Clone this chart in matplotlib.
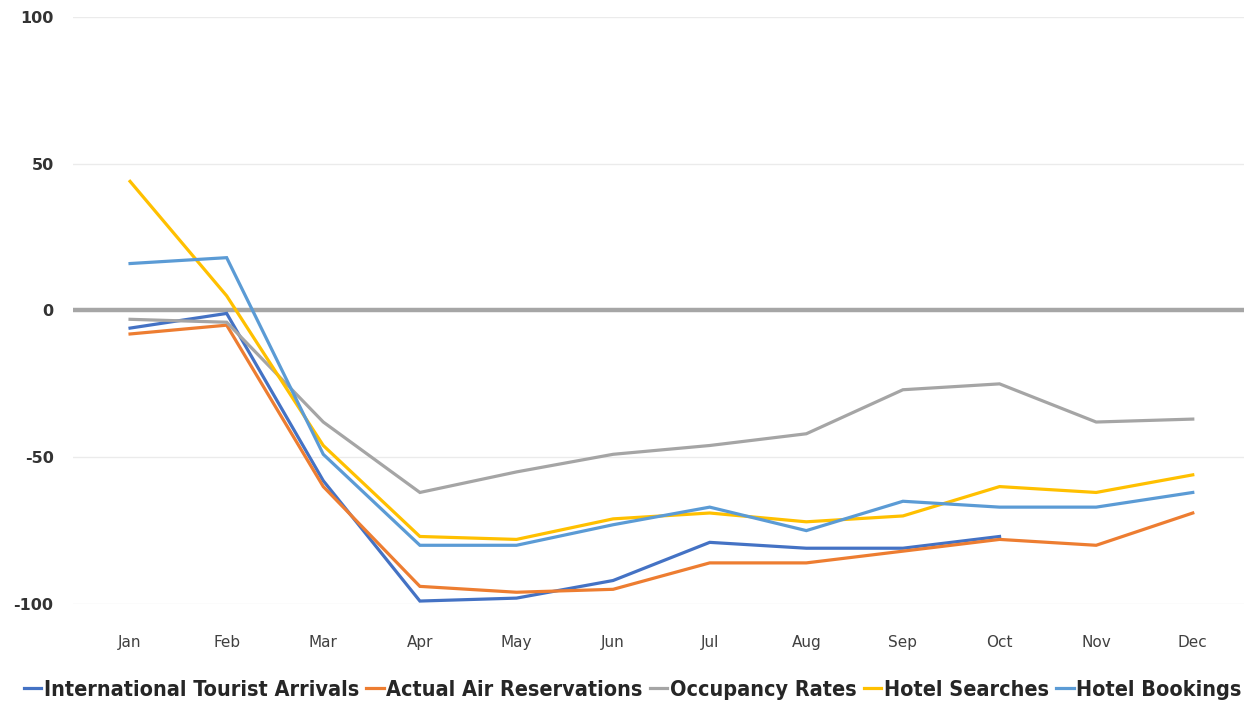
import matplotlib
matplotlib.use("Agg")
import matplotlib.pyplot as plt

# Data (% change)
months = ["Jan", "Feb", "Mar", "Apr", "May", "Jun", "Jul", "Aug", "Sep", "Oct", "Nov", "Dec"]
arrivals = [-6, -1, -58, -99, -98, -92, -79, -81, -81, -77]  # ends at Oct
air_reservations = [-8, -5, -60, -94, -96, -95, -86, -86, -82, -78, -80, -69]
occupancy = [-3, -4, -38, -62, -55, -49, -46, -42, -27, -25, -38, -37]
hotel_searches = [44, 5, -46, -77, -78, -71, -69, -72, -70, -60, -62, -56]
hotel_bookings = [16, 18, -49, -80, -80, -73, -67, -75, -65, -67, -67, -62]

series = [
    ("International Tourist Arrivals", arrivals, "#4472C4"),
    ("Actual Air Reservations", air_reservations, "#ED7D31"),
    ("Occupancy Rates", occupancy, "#A5A5A5"),
    ("Hotel Searches", hotel_searches, "#FFC000"),
    ("Hotel Bookings", hotel_bookings, "#5B9BD5"),
]

fig = plt.figure(figsize=(12.53, 7.06), dpi=100)
ax = fig.add_axes([0.0583, 0.1445, 0.9345, 0.8314])

x = list(range(len(months)))
for name, vals, color in series:
    ax.plot(x[:len(vals)], vals, color=color, lw=2.3, label=name,
            solid_joinstyle="miter", zorder=3)

# zero axis line, thick gray
ax.axhline(0, color="#A6A6A6", lw=3.2, zorder=2)

ax.set_xlim(-0.59, 11.53)
ax.set_ylim(-100, 100)
ax.set_yticks([-100, -50, 0, 50, 100])
ax.set_yticklabels(["-100", "-50", "0", "50", "100"], fontsize=11.5,
                   fontweight="bold", color="#333333")
ax.set_xticks(x)
ax.set_xticklabels(months, fontsize=11, color="#404040")
ax.tick_params(axis="both", length=0)
ax.tick_params(axis="x", pad=22)
ax.tick_params(axis="y", pad=14)

ax.grid(axis="y", color="#EBEBEB", lw=1)
ax.set_axisbelow(True)
for s in ax.spines.values():
    s.set_visible(False)

leg = fig.legend(loc="center", bbox_to_anchor=(0.505, 0.023), ncol=5,
                 frameon=False, handlelength=0.8, handletextpad=0.12,
                 columnspacing=0.35,
                 prop={"family": "DejaVu Sans", "stretch": "condensed",
                       "weight": "bold", "size": 15.5})
for t in leg.get_texts():
    t.set_color("#262626")

fig.savefig("out.png", dpi=100)
